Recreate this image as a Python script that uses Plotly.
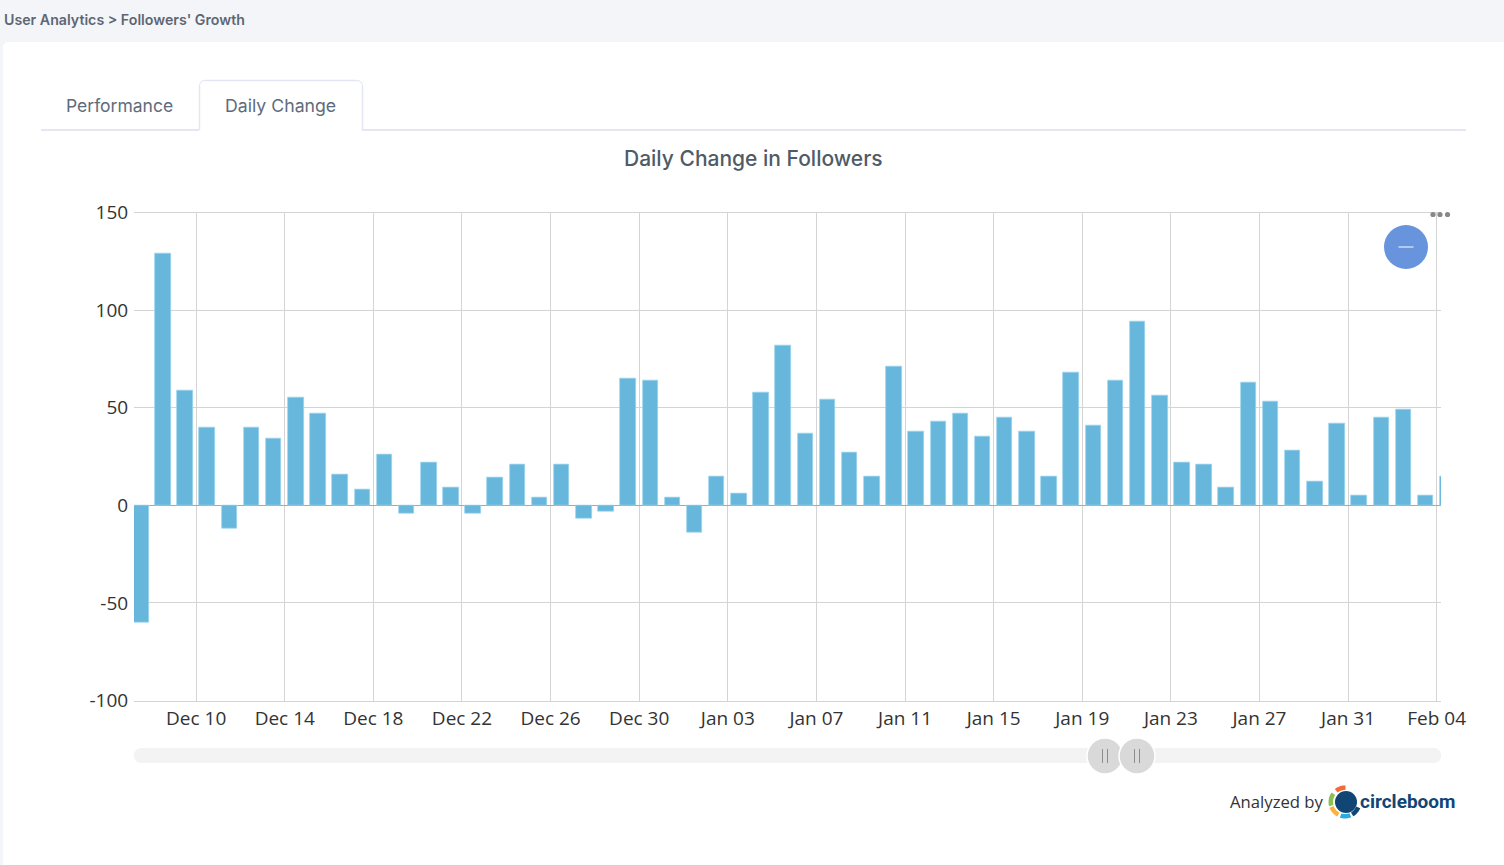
import numpy as np
import pandas as pd
import plotly.graph_objects as go

W = 1504
H = 865

dates = pd.date_range('2023-12-07', '2024-02-04', freq='D')
daily_change = [-60, 129, 59, 40, -12, 40, 34, 55, 47, 16, 8, 26, -4, 22, 9, -4, 14, 21, 4, 21, -7, -3, 65, 64, 4,
                -14, 15, 6, 58, 82, 37, 54, 27, 15, 71, 38, 43, 47, 35, 45, 38, 15, 68, 41, 64, 94, 56, 22, 21, 9,
                63, 53, 28, 12, 42, 5, 45, 49, 5, 15]
tick_dates = pd.date_range('2023-12-10', '2024-02-04', freq='4D')
tick_labels = [d.strftime('%b %d') for d in tick_dates]
y_ticks = [-100, -50, 0, 50, 100, 150]
y_labels = ['-100', '-50', '0', '50', '100', '150']


def px(x):
    return x / W


def py(y):
    return 1 - y / H


def rect(x0, y0, x1, y1, color):
    return dict(type='rect', xref='paper', yref='paper', x0=px(x0), x1=px(x1), y0=py(y0), y1=py(y1),
                fillcolor=color, line=dict(width=0), layer='below')


def line(x0, y0, x1, y1, color, width=1, layer='above'):
    return dict(type='line', xref='paper', yref='paper', x0=px(x0), x1=px(x1), y0=py(y0), y1=py(y1),
                line=dict(color=color, width=width), layer=layer)


def circle(cx, cy, r, color, border=None):
    return dict(type='circle', xref='paper', yref='paper', x0=px(cx - r), x1=px(cx + r), y0=py(cy + r), y1=py(cy - r),
                fillcolor=color, line=dict(color=border, width=1.5) if border else dict(width=0), layer='above')


def rounded(x0, y0, x1, y1, r, color, layer='below'):
    # pill / rounded card drawn as a paper path
    pts = []
    for cx, cy, a0 in [(x1 - r, y0 + r, -90), (x1 - r, y1 - r, 0), (x0 + r, y1 - r, 90), (x0 + r, y0 + r, 180)]:
        for a in np.radians(np.linspace(a0, a0 + 90, 8)):
            pts.append((px(cx + r * np.cos(a)), py(cy + r * np.sin(a))))
    d = 'M ' + ' L '.join(f'{a:.5f},{b:.5f}' for a, b in pts) + ' Z'
    return dict(type='path', xref='paper', yref='paper', path=d, fillcolor=color, line=dict(width=0), layer=layer)


def arc(cx, cy, r0, r1, a0, a1, color):
    ang = np.radians(np.linspace(a0, a1, 10))
    pts = [(cx + r1 * np.cos(a), cy + r1 * np.sin(a)) for a in ang]
    pts += [(cx + r0 * np.cos(a), cy + r0 * np.sin(a)) for a in ang[::-1]]
    d = 'M ' + ' L '.join(f'{px(a):.5f},{py(b):.5f}' for a, b in pts) + ' Z'
    return dict(type='path', xref='paper', yref='paper', path=d, fillcolor=color, line=dict(width=0), layer='above')


def label(x, y, text, size, color, family, anchor='left', weight=None):
    return dict(xref='paper', yref='paper', x=px(x), y=py(y), text=text, showarrow=False, xanchor=anchor,
                yanchor='middle', font=dict(size=size, color=color, family=family, weight=weight))


fig = go.Figure()
fig.add_trace(go.Bar(x=dates, y=daily_change, xperiod=86400000, xperiodalignment='middle', width=0.7 * 86400000,
                     marker=dict(color='#67b7dc', line=dict(color='#9ad2ec', width=0.7)),
                     hovertemplate='%{x|%b %d}: %{y}<extra></extra>'))

grid = '#d4d4d4'
tab = '#e4e7f1'
shapes = [
    rect(0, 0, W, H, '#f4f5f9'),
    rounded(3, 42, W + 10, H + 10, 5, '#ffffff'),
    line(134, 212.5, 1441, 212.5, grid, 1, 'below'),
    line(41, 130, 199, 130, tab, 2),
    line(362, 130, 1466, 130, tab, 2),
    line(199.5, 130, 199.5, 86, tab, 1.5),
    line(362.5, 130, 362.5, 86, tab, 1.5),
    line(205, 80.5, 357, 80.5, tab, 1.5),
    arc(205, 86, 5, 6, 180, 270, tab),
    arc(357, 86, 5, 6, 270, 360, tab),
    # scrollbar
    rounded(134, 748, 1441, 763, 7, '#f3f3f3', 'above'),
    circle(1105, 756, 18, '#d9d9d9', '#ffffff'),
    circle(1137, 756, 18, '#d9d9d9', '#ffffff'),
    line(1102.5, 749, 1102.5, 763, '#8c8c8c'),
    line(1107.5, 749, 1107.5, 763, '#8c8c8c'),
    line(1134.5, 749, 1134.5, 763, '#8c8c8c'),
    line(1139.5, 749, 1139.5, 763, '#8c8c8c'),
    # zoom-out button and menu dots
    circle(1406, 247, 22, '#6794dc'),
    line(1398.5, 247, 1413.5, 247, '#ffffff'),
    circle(1433, 214.5, 2.6, '#888888'),
    circle(1440, 214.5, 2.6, '#888888'),
    circle(1447.5, 214.5, 2.6, '#888888'),
    # logo
    circle(1346, 802, 11, '#114674'),
    arc(1346, 802, 12, 16, 255, 305, '#ffffff'),
    arc(1345, 802, 12, 16.5, 232, 272, '#f26b38'),
    arc(1345, 802, 12, 16.5, 165, 215, '#8cc152'),
    arc(1345, 802, 12, 16.5, 118, 160, '#fbb040'),
    arc(1345, 802, 12, 16.5, 68, 108, '#29abe2'),
    arc(1345, 802, 12, 16.5, 22, 60, '#114674'),
]

poppins = 'Inter, Open Sans, sans-serif'
annotations = [
    label(1.5, 19, "User Analytics &gt; Followers' Growth", 14.2, '#5e6673', poppins, weight=600),
    label(64, 105, 'Performance', 17.5, '#5e6b7c', poppins),
    label(223, 105, 'Daily Change', 17.7, '#5e6b7c', poppins),
    label(753, 158, 'Daily Change in Followers', 21, '#4f5b67', poppins, anchor='center', weight=500),
    label(1228, 801, 'Analyzed by', 16.7, '#333333', 'Open Sans'),
    label(1358, 801, 'circleboom', 19, '#114674', 'Roboto, Open Sans', weight=700),
]

fig.update_layout(
    width=W, height=H, margin=dict(l=0, r=0, t=0, b=0, autoexpand=False), autosize=False,
    paper_bgcolor='#ffffff', plot_bgcolor='rgba(0,0,0,0)', showlegend=False, bargap=0,
    font=dict(family='Open Sans, sans-serif', size=19, color='#333333'),
    shapes=shapes, annotations=annotations,
    xaxis=dict(type='date', automargin=False, domain=[px(134), px(1441)], range=['2023-12-07 04:40', '2024-02-04 04:40'],
               tickmode='array', tickvals=tick_dates, ticktext=tick_labels, tickangle=0,
               showgrid=True, gridcolor=grid, gridwidth=1, zeroline=False, showline=True, linecolor=grid,
               ticks='outside', ticklen=1, tickcolor='rgba(0,0,0,0)', tickfont=dict(size=19, color='#333333')),
    yaxis=dict(automargin=False, domain=[py(700.5), py(212.5)], range=[-100, 150], tickmode='array', tickvals=y_ticks,
               ticktext=y_labels, showgrid=True, gridcolor=grid, gridwidth=1, zeroline=True, zerolinecolor='#a8a8a8',
               zerolinewidth=1, showline=False, ticks='outside', ticklen=1, tickcolor='rgba(0,0,0,0)',
               tickfont=dict(size=19, color='#333333')),
)

fig.write_html('out.html', config=dict(displayModeBar=False),
               post_script="document.body.style.margin='0';document.body.style.overflow='hidden';")
